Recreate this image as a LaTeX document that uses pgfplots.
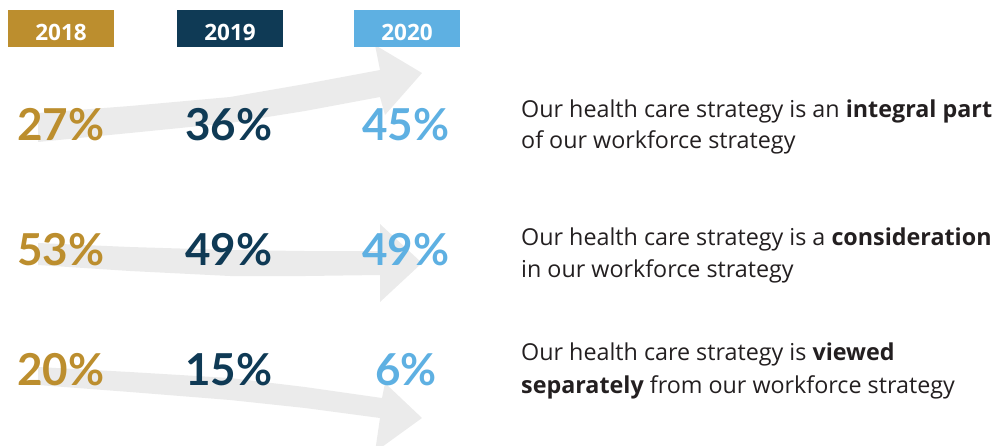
\documentclass[border=0pt]{standalone}
\usepackage{pgfplots}
\pgfplotsset{compat=1.18}
\usepackage{fontspec}
\setmainfont{Lato}
\newfontfamily\osans{Open Sans}
\definecolor{gold}{HTML}{BC8E2E}
\definecolor{navy}{HTML}{0F3A55}
\definecolor{sky}{HTML}{5EB0E2}
\definecolor{arrowgray}{HTML}{EBEBEB}
\definecolor{txt}{HTML}{231F20}
\begin{document}
\begin{tikzpicture}
\begin{axis}[
  at={(0,0)}, anchor=south west,
  width=1003pt, height=445pt, scale only axis,
  xmin=0, xmax=1003, ymin=0, ymax=445, y dir=reverse,
  hide axis, clip=true,
  /pgf/number format/assume math mode=true,
  pctstyle/.style={only marks, mark=none, nodes near coords={\pgfmathprintnumber{\pgfplotspointmeta}\%},
    point meta=explicit,
    nodes near coords style={anchor=base, inner sep=0pt, font=\fontsize{44}{50}\selectfont\bfseries}},
]
% trend arrows
\addplot[fill=arrowgray, draw=none] coordinates {(38,113) (130,106) (230,97) (305,84) (380,70) (375,45) (422,73) (385,115) (380,97) (305,111) (230,123) (130,133) (38,142)} -- cycle;
\addplot[fill=arrowgray, draw=none] coordinates {(38,243) (130,247) (230,250) (305,251) (380,251) (380,224) (422,263) (380,302) (380,275) (305,276) (230,276) (130,271) (38,265)} -- cycle;
\addplot[fill=arrowgray, draw=none] coordinates {(38,367) (130,372) (230,378) (305,387) (382,398) (385,383) (422,418) (375,452) (380,418) (305,408) (230,400) (130,392) (38,385)} -- cycle;
% year headers
\fill[gold] (axis cs:8,10) rectangle (axis cs:114,47);
\fill[navy] (axis cs:177,10) rectangle (axis cs:283,47);
\fill[sky] (axis cs:354,10) rectangle (axis cs:460,47);
\begin{scope}[every node/.style={anchor=base, text=white, inner sep=0pt, font=\osans\fontsize{22.5}{25}\selectfont\bfseries}]
\node at (axis cs:61,40) {2018};
\node at (axis cs:230,40) {2019};
\node at (axis cs:407,40) {2020};
\end{scope}
% percentages
\addplot[pctstyle, nodes near coords style={text=gold}] table[meta=v] {
x y v
61 140 27
61 265 53
61 385 20
};
\addplot[pctstyle, nodes near coords style={text=navy}] table[meta=v] {
x y v
229 140 36
229 265 49
229 385 15
};
\addplot[pctstyle, nodes near coords style={text=sky}] table[meta=v] {
x y v
406 140 45
406 265 49
406 385 6
};
% statements
\begin{scope}[every node/.style={anchor=base west, inner sep=0pt, text=txt, font=\osans\fontsize{23.3}{28}\selectfont}]
\node at (axis cs:521,117) {Our health care strategy is an \textbf{integral part}};
\node at (axis cs:521,148) {of our workforce strategy};
\node at (axis cs:521,245) {Our health care strategy is a \textbf{consideration}};
\node at (axis cs:521,277) {in our workforce strategy};
\node at (axis cs:521,360) {Our health care strategy is \textbf{viewed}};
\node at (axis cs:521,393) {\textbf{separately} from our workforce strategy};
\end{scope}
\end{axis}
\pgfresetboundingbox
\useasboundingbox (0,0) rectangle (1003pt,445pt);
\end{tikzpicture}
\end{document}
